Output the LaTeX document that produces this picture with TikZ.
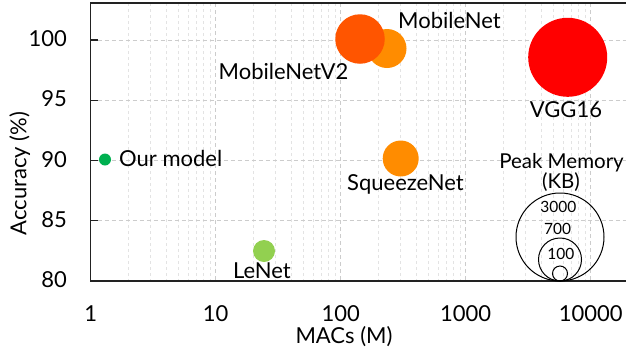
\documentclass[tikz,border=0pt]{standalone}
\usepackage{fontspec}
\setmainfont{Lato}
\definecolor{cOur}{HTML}{00B050}
\definecolor{cLe}{HTML}{92D050}
\definecolor{cMob}{HTML}{FF8C00}
\definecolor{cMob2}{HTML}{FF5500}
\definecolor{cVGG}{HTML}{FF0000}
\definecolor{cAxis}{HTML}{222222}
\tikzset{
  minorgrid/.style={draw=gray!22, line width=0.8pt, dash pattern=on 3pt off 3pt},
  majorgrid/.style={draw=gray!40, line width=0.8pt, dash pattern=on 4pt off 3pt},
  axisline/.style={draw=cAxis, line width=1.4pt},
  lbl/.style={font=\fontsize{22}{26}\selectfont, text=black, inner sep=0pt, anchor=base},
  leglbl/.style={font=\fontsize{20.5}{24}\selectfont, text=black, inner sep=0pt, anchor=base},
  smalllbl/.style={font=\fontsize{15.5}{18}\selectfont, text=black, inner sep=0pt, anchor=base},
  bubble/.style={circle, inner sep=0pt, minimum size=#1, draw=none},
  legcirc/.style={circle, inner sep=0pt, minimum size=#1, draw=black, line width=1pt},
}
\begin{document}
\begin{tikzpicture}[x=1pt,y=-1pt]
\useasboundingbox (0,0) rectangle (626,354);
% minor vertical grid
\foreach \d in {0,1,2,3}{
  \foreach \k in {2,...,9}{
    \pgfmathsetmacro{\xx}{90.7+125*(\d+log10(\k))}
    \draw[minorgrid] (\xx,3) -- (\xx,281);
  }
}
% major vertical grid
\foreach \xx in {215.7,340.7,465.7,590.7}{
  \draw[majorgrid] (\xx,3) -- (\xx,281);
}
% major horizontal grid
\foreach \yy in {40,100.25,160.5,220.75}{
  \draw[majorgrid] (90.7,\yy) -- (626,\yy);
}
% axes
\draw[axisline] (630,3) -- (90.7,3) -- (90.7,281) -- (630,281);
\foreach \yy in {40,100.25,160.5,220.75}{
  \draw[axisline] (90.7,\yy) -- (98,\yy);
}
% y tick labels
\node[lbl, anchor=base east] (y100) at (67,46.5) {100};
\node[lbl, anchor=base east] (y95) at (67,106.75) {95};
\node[lbl, anchor=base east] (y90) at (67,167) {90};
\node[lbl, anchor=base east] (y85) at (67,227.25) {85};
\node[lbl, anchor=base east] (y80) at (67,287.5) {80};
% x tick labels
\node[lbl] (x1) at (90.7,321.5) {1};
\node[lbl] (x10) at (215.7,321.5) {10};
\node[lbl] (x100) at (340.7,321.5) {100};
\node[lbl] (x1000) at (465.7,321.5) {1000};
\node[lbl] (x10000) at (590.7,321.5) {10000};
% axis titles
\node[lbl] (xtitle) at (344,343) {MACs (M)};
\node[lbl, rotate=90] (ytitle) at (26.3,173.5) {Accuracy (\%)};
% bubbles
\node[bubble=12pt, fill=cOur] (our) at (105,159.5) {};
\node[bubble=22pt, fill=cLe] (lenet) at (264,251) {};
\node[bubble=39pt, fill=cMob] (mobilenet) at (387,48.5) {};
\node[bubble=49.5pt, fill=cMob2] (mobilenetv2) at (360,39) {};
\node[bubble=36pt, fill=cMob] (squeeze) at (400.7,158.5) {};
\node[bubble=79pt, fill=cVGG] (vgg) at (567.7,57.3) {};
% bubble labels
\node[lbl, anchor=base west] (ourlbl) at (119,166.5) {Our model};
\node[lbl] (lenetlbl) at (262,278) {LeNet};
\node[lbl] (mobilenetlbl) at (449.5,28.3) {MobileNet};
\node[lbl] (mobilenetv2lbl) at (283.5,79.5) {MobileNetV2};
\node[lbl] (squeezelbl) at (405.5,190.7) {SqueezeNet};
\node[lbl] (vgglbl) at (566,117.3) {VGG16};
% legend
\node[leglbl] (legtitle1) at (561.5,168.5) {Peak Memory};
\node[leglbl] (legtitle2) at (561,188.5) {(KB)};
\node[legcirc=88pt] (leg3000) at (560,237) {};
\node[legcirc=43pt] (leg700) at (560,259.5) {};
\node[legcirc=15pt] (leg100) at (560,273.5) {};
\node[smalllbl] (l3000) at (558.3,212.7) {3000};
\node[smalllbl] (l700) at (557.5,234) {700};
\node[smalllbl] (l100) at (560.8,259) {100};
\end{tikzpicture}
\end{document}
